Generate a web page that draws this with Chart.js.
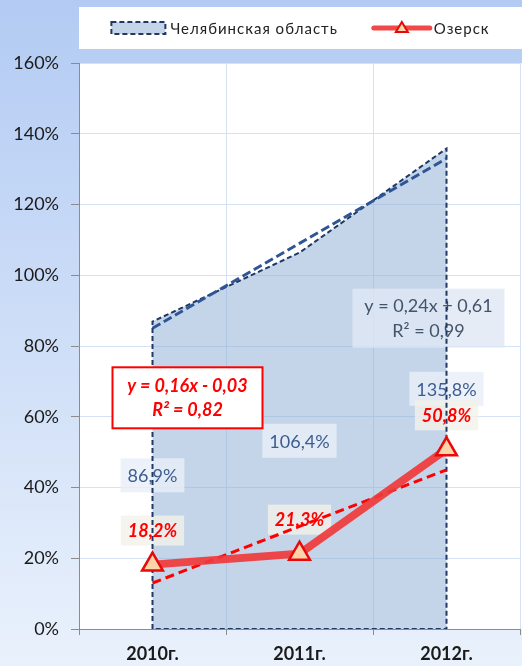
<!DOCTYPE html>
<html>
<head>
<meta charset="utf-8">
<script src="https://cdn.jsdelivr.net/npm/chart.js@4.4.1/dist/chart.umd.min.js"></script>
<style>
  html, body { margin: 0; padding: 0; background: #dfe9f9; }
  canvas { display: block; }
</style>
</head>
<body>
<canvas id="chart" width="522" height="666"></canvas>
<script>
// --- data ---
const years = ['2010г.', '2011г.', '2012г.'];
const chelValues = [86.9, 106.4, 135.8];      // Челябинская область
const ozerskValues = [18.2, 21.3, 50.8];      // Озерск
const chelTrend = [85, 109, 133];             // linear trend, Челябинская область
const ozerskTrend = [13, 29, 45];             // linear trend, Озерск
const chelEquation = ['y = 0,24x + 0,61', 'R² = 0,99'];
const ozerskEquation = ['y = 0,16x - 0,03', 'R² = 0,82'];
const yMin = 0, yMax = 160, yStep = 20;

const FONT = 'Lato, "Open Sans", sans-serif';
const pct = v => v.toFixed(1).replace('.', ',') + '%';

// closed outline of the area: down to zero at both ends
const chelShape = [
    { x: years[0], y: 0 },
    ...years.map((y, i) => ({ x: y, y: chelValues[i] })),
    { x: years[years.length - 1], y: 0 },
    { x: years[0], y: 0 }
];

function textBox(ctx, text, cx, cy, o) {
    ctx.font = o.font;
    const w = o.w || ctx.measureText(text).width + 14;
    ctx.fillStyle = o.bg;
    ctx.fillRect(cx - w / 2, cy - o.h / 2, w, o.h);
    ctx.fillStyle = o.color;
    ctx.textAlign = 'center';
    ctx.textBaseline = 'middle';
    ctx.fillText(text, cx, cy + 1);
}

const backdrop = {
    id: 'backdrop',
    beforeDraw(chart) {
        const { ctx, width, height, chartArea: a } = chart;
        ctx.save();
        const g = ctx.createLinearGradient(0, 0, 0, height);
        g.addColorStop(0, '#b3cbf3');
        g.addColorStop(1, '#e9f1fc');
        ctx.fillStyle = g;
        ctx.fillRect(0, 0, width, height);
        ctx.fillStyle = '#ffffff';
        ctx.fillRect(a.left, a.top, width - a.left, a.bottom - a.top);
        ctx.restore();
    }
};

const legendBox = {
    id: 'legendBox',
    afterDraw(chart) {
        const { ctx, width, chartArea: a } = chart;
        const ds = chart.data.datasets;
        ctx.save();
        ctx.fillStyle = '#ffffff';
        ctx.fillRect(a.left, 7, width - a.left, 42);
        ctx.font = '15px ' + FONT;
        ctx.letterSpacing = '1px';
        const t1 = ds[0].label, t2 = ds[2].label;
        const w1 = ctx.measureText(t1).width, w2 = ctx.measureText(t2).width;
        const total = 54 + 5 + w1 + 36 + 56 + 4 + w2;
        let x = (a.left + width) / 2 - total / 2;
        const cy = 28;
        // dashed area swatch
        ctx.fillStyle = ds[0].backgroundColor;
        ctx.fillRect(x, cy - 6, 54, 12);
        ctx.setLineDash([5, 3]);
        ctx.strokeStyle = ds[0].borderColor;
        ctx.lineWidth = 2;
        ctx.strokeRect(x, cy - 6, 54, 12);
        ctx.setLineDash([]);
        x += 59;
        ctx.fillStyle = '#222222';
        ctx.textBaseline = 'middle';
        ctx.textAlign = 'left';
        ctx.fillText(t1, x, cy + 1);
        x += w1 + 36;
        // line + triangle swatch
        ctx.strokeStyle = ds[2].borderColor;
        ctx.lineWidth = 5;
        ctx.lineCap = 'round';
        ctx.beginPath();
        ctx.moveTo(x, cy);
        ctx.lineTo(x + 56, cy);
        ctx.stroke();
        ctx.beginPath();
        ctx.moveTo(x + 28, cy - 6);
        ctx.lineTo(x + 34, cy + 4);
        ctx.lineTo(x + 22, cy + 4);
        ctx.closePath();
        ctx.fillStyle = ds[2].pointBackgroundColor;
        ctx.fill();
        ctx.lineWidth = 2;
        ctx.strokeStyle = ds[2].pointBorderColor;
        ctx.stroke();
        x += 60;
        ctx.fillStyle = '#222222';
        ctx.fillText(t2, x, cy + 1);
        ctx.restore();
    }
};

const valueLabels = {
    id: 'valueLabels',
    beforeDatasetsDraw(chart) {
        const { ctx, scales: { x, y } } = chart;
        ctx.save();
        // area values, centred at half height like Excel
        chelValues.forEach((v, i) => {
            textBox(ctx, pct(v), x.getPixelForValue(i), y.getPixelForValue(v / 2), {
                font: '18px ' + FONT, bg: 'rgba(232,239,249,0.8)', color: '#3d5d8f', h: 34
            });
        });
        // Озерск values above the markers
        const pts = chart.getDatasetMeta(2).data;
        ozerskValues.forEach((v, i) => {
            textBox(ctx, pct(v), pts[i].x, pts[i].y - 34, {
                font: 'italic bold 18px ' + FONT, bg: 'rgba(243,241,234,0.8)', color: '#ff0000', h: 30
            });
        });
        // trend equation, Челябинская область
        const ex = x.getPixelForValue(2) - 18, ey = y.getPixelForValue(88);
        ctx.fillStyle = 'rgba(222,231,244,0.8)';
        ctx.fillRect(ex - 76, ey - 29, 152, 59);
        ctx.fillStyle = '#44546a';
        ctx.font = '18px ' + FONT;
        ctx.textAlign = 'center';
        ctx.textBaseline = 'middle';
        ctx.fillText(chelEquation[0], ex, ey - 12);
        ctx.fillText(chelEquation[1], ex, ey + 13);
        ctx.restore();
    },
    afterDatasetsDraw(chart) {
        const { ctx, scales: { x, y } } = chart;
        const ex = x.getPixelForValue(0) + 35, ey = y.getPixelForValue(65.5);
        ctx.save();
        ctx.fillStyle = '#ffffff';
        ctx.fillRect(ex - 75, ey - 30, 150, 61);
        ctx.strokeStyle = '#ff0000';
        ctx.lineWidth = 2;
        ctx.strokeRect(ex - 75, ey - 30, 150, 61);
        ctx.fillStyle = '#ff0000';
        ctx.font = 'italic bold 18px ' + FONT;
        ctx.textAlign = 'center';
        ctx.textBaseline = 'middle';
        ctx.fillText(ozerskEquation[0], ex, ey - 11);
        ctx.fillText(ozerskEquation[1], ex, ey + 13);
        ctx.restore();
    }
};

new Chart(document.getElementById('chart'), {
    type: 'line',
    data: {
        labels: years,
        datasets: [
            {
                label: 'Челябинская область',
                data: chelShape,
                fill: 'shape',
                backgroundColor: 'rgba(140,172,212,0.5)',
                borderColor: '#1f3864',
                borderWidth: 2,
                borderDash: [5, 3],
                pointRadius: 0,
                tension: 0,
                order: 4
            },
            {
                label: 'Линейная (Челябинская область)',
                data: chelTrend,
                borderColor: '#2f5597',
                borderWidth: 3,
                borderDash: [9, 4],
                pointRadius: 0,
                fill: false,
                order: 3
            },
            {
                label: 'Озерск',
                data: ozerskValues,
                borderColor: 'rgba(240,58,58,0.92)',
                borderWidth: 8,
                pointStyle: 'triangle',
                pointRadius: 12,
                pointBackgroundColor: '#fdd3aa',
                pointBorderColor: '#e80a0a',
                pointBorderWidth: 2.5,
                fill: false,
                order: 1
            },
            {
                label: 'Линейная (Озерск)',
                data: ozerskTrend,
                borderColor: '#ff0000',
                borderWidth: 3,
                borderDash: [9, 5],
                pointRadius: 0,
                fill: false,
                order: 2
            }
        ]
    },
    options: {
        responsive: false,
        animation: false,
        events: [],
        layout: { autoPadding: false, padding: { top: 63, right: 2, left: 0, bottom: 0 } },
        plugins: {
            legend: { display: false },
            tooltip: { enabled: false },
            filler: { drawTime: 'beforeDatasetsDraw' }
        },
        scales: {
            x: {
                offset: true,
                grid: { offset: true, color: '#d5e2f5', tickColor: '#8c8c8c', tickLength: 6 },
                border: { color: '#8c8c8c' },
                ticks: {
                    color: '#1a1a1a',
                    font: { family: FONT, size: 18, weight: 'bold' },
                    padding: 8,
                    maxRotation: 0
                },
                afterFit(scale) {
                    scale.height = 37;
                    scale.paddingLeft = 0;
                    scale.paddingRight = 0;
                }
            },
            y: {
                min: yMin,
                max: yMax,
                grid: { color: '#d5e2f5', tickColor: '#8c8c8c', tickLength: 8 },
                border: { color: '#8c8c8c' },
                ticks: {
                    stepSize: yStep,
                    callback: v => v + '%',
                    color: '#1a1a1a',
                    font: { family: FONT, size: 18 },
                    padding: 12
                },
                afterFit(scale) { scale.width = 79; }
            }
        }
    },
    plugins: [backdrop, valueLabels, legendBox]
});
</script>
</body>
</html>
